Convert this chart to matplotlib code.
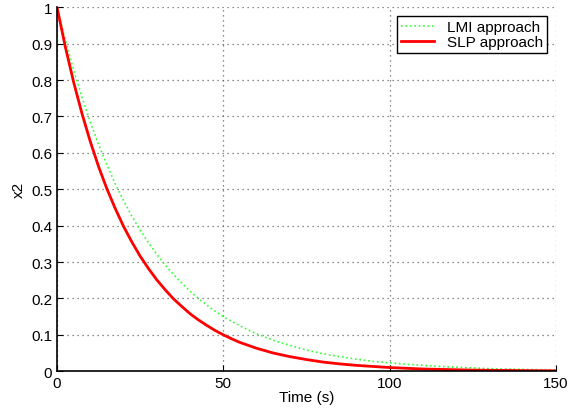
import numpy as np
import matplotlib.pyplot as plt

plt.rcParams['font.family'] = ['Liberation Sans', 'DejaVu Sans']

# Temps (s) et valeurs
t = [0, 2.5, 5, 7.5, 10, 12.5, 15, 17.5, 20, 22.5, 25, 27.5, 30, 32.5, 35, 37.5,
     40, 42.5, 45, 47.5, 50, 52.5, 55, 57.5, 60, 65, 70, 75, 80, 85, 90, 95,
     100, 105, 110, 115, 120, 125, 130, 135, 140, 145, 150]
x2_lmi = [1.0, 0.910, 0.827, 0.753, 0.685, 0.623, 0.567, 0.515, 0.469, 0.426,
          0.388, 0.353, 0.321, 0.292, 0.266, 0.242, 0.220, 0.200, 0.182, 0.165,
          0.150, 0.137, 0.125, 0.113, 0.103, 0.085, 0.071, 0.058, 0.048, 0.040,
          0.033, 0.027, 0.023, 0.019, 0.016, 0.013, 0.011, 0.009, 0.007, 0.006,
          0.005, 0.004, 0.003]
x2_slp = [1.0, 0.891, 0.794, 0.708, 0.631, 0.562, 0.501, 0.447, 0.398, 0.355,
          0.316, 0.282, 0.251, 0.224, 0.199, 0.178, 0.158, 0.141, 0.126, 0.112,
          0.100, 0.089, 0.079, 0.071, 0.063, 0.050, 0.040, 0.032, 0.025, 0.020,
          0.016, 0.013, 0.010, 0.008, 0.006, 0.005, 0.004, 0.003, 0.0025, 0.002,
          0.0016, 0.0013, 0.001]

xticks = [0, 50, 100, 150]
yticks = [0, 0.1, 0.2, 0.3, 0.4, 0.5, 0.6, 0.7, 0.8, 0.9, 1]
ytick_labels = ['0', '0.1', '0.2', '0.3', '0.4', '0.5', '0.6', '0.7', '0.8', '0.9', '1']

fig = plt.figure(figsize=(5.82, 4.14), dpi=100)
ax = fig.add_axes([0.098, 0.101, 0.857, 0.879])

ax.plot(t, x2_lmi, color='#33ff33', linestyle=':', linewidth=1.2, label='LMI approach')
ax.plot(t, x2_slp, color='red', linestyle='-', linewidth=2, label='SLP approach')

ax.set_xlim(0, 150)
ax.set_ylim(0, 1)
ax.set_xticks(xticks)
ax.set_yticks(yticks)
ax.set_yticklabels(ytick_labels)
ax.tick_params(direction='in', length=4, labelsize=11, width=0.8)

# grille pointillée style MATLAB
ax.grid(True, linestyle=(0, (1, 3)), color='#666666', linewidth=0.9)
ax.spines['top'].set_visible(False)
ax.spines['right'].set_visible(False)
ax.spines['left'].set_linewidth(1.2)
ax.spines['bottom'].set_linewidth(1.2)

ax.set_xlabel('Time (s)', fontsize=11, labelpad=0)
ax.set_ylabel('x2', fontsize=11, labelpad=4)

leg = ax.legend(loc='upper right', fontsize=11, fancybox=False, framealpha=1,
                edgecolor='black', borderpad=0.25, labelspacing=0.05,
                handlelength=2.2, borderaxespad=0.6)
leg.get_frame().set_linewidth(1.0)

fig.savefig('out.png', dpi=100)
